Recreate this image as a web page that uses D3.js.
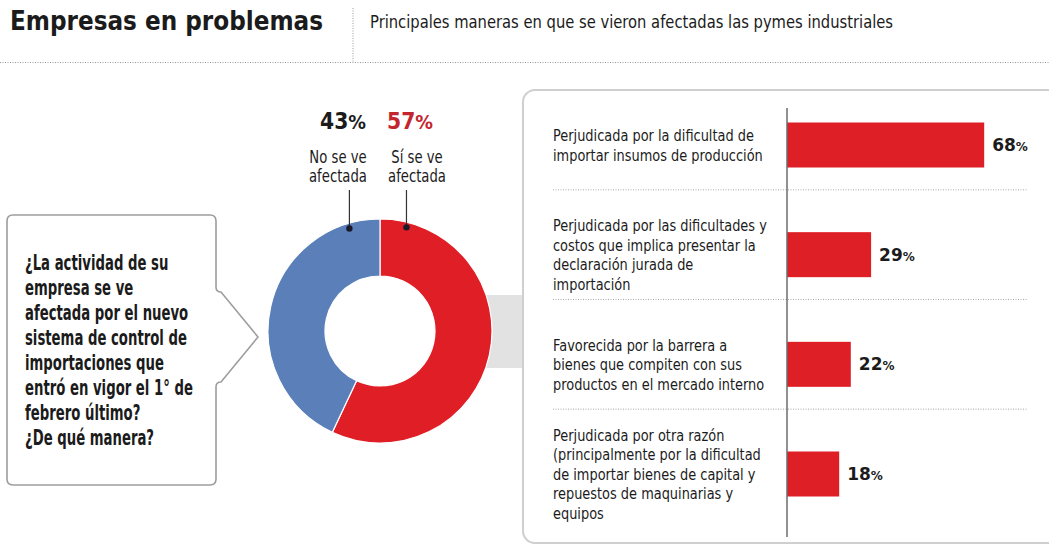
<!DOCTYPE html>
<html>
<head>
<meta charset="utf-8">
<script src="https://cdn.jsdelivr.net/npm/d3@7"></script>
<style>
    body { margin: 0; background: #fff; }
    svg { display: block; font-family: "DejaVu Sans", "Liberation Sans", sans-serif; }
</style>
</head>
<body>
<svg id="chart" width="1049" height="545"></svg>
<script>
// data
const title = "Empresas en problemas";
const subtitle = "Principales maneras en que se vieron afectadas las pymes industriales";
const question = ["¿La actividad de su", "empresa se ve", "afectada por el nuevo", "sistema de control de",
    "importaciones que", "entró en vigor el 1° de", "febrero último?", "¿De qué manera?"];
const pieNames = ["Sí se ve afectada", "No se ve afectada"];
const pieLines = [["Sí se ve", "afectada"], ["No se ve", "afectada"]];
const pieValues = [57, 43];
const pieColors = ["#e01e26", "#5a7fb9"];
const barLabels = [
    ["Perjudicada por la dificultad de", "importar insumos de producción"],
    ["Perjudicada por las dificultades y", "costos que implica presentar la", "declaración jurada de", "importación"],
    ["Favorecida por la barrera a", "bienes que compiten con sus", "productos en el mercado interno"],
    ["Perjudicada por otra razón", "(principalmente por la dificultad", "de importar bienes de capital y", "repuestos de maquinarias y", "equipos"]
];
const barValues = [68, 29, 22, 18];

const svg = d3.select("#chart");
const ink = "#1b1b1b";

function fitText(sel, width) {
    sel.attr("textLength", width).attr("lengthAdjust", "spacingAndGlyphs");
}

// squeeze a group of texts horizontally so its widest line is `width` (font is wider than the original)
function condense(g, x0, width) {
    let widest = 0;
    g.selectAll("text").each(function () {
        widest = Math.max(widest, this.getComputedTextLength());
    });
    const k = Math.min(1, width / widest);
    g.attr("transform", `translate(${x0},0) scale(${k},1) translate(${-x0},0)`);
}

// header
svg.append("text").attr("x", 10).attr("y", 30)
    .attr("font-size", 27).attr("font-weight", "bold").attr("fill", ink)
    .text(title).call(fitText, 313);
svg.append("text").attr("x", 370).attr("y", 28)
    .attr("font-size", 17).attr("fill", ink)
    .text(subtitle).call(fitText, 523);
svg.append("line").attr("x1", 353).attr("x2", 353).attr("y1", 8).attr("y2", 62)
    .attr("stroke", "#9a9a9a").attr("stroke-dasharray", "1,1.5");
svg.append("line").attr("x1", 0).attr("x2", 1049).attr("y1", 62.5).attr("y2", 62.5)
    .attr("stroke", "#9a9a9a").attr("stroke-dasharray", "1,1.5");

// grey connector behind the donut
svg.append("rect").attr("x", 440).attr("y", 295).attr("width", 90).attr("height", 73).attr("fill", "#e2e2e2");

// question box with arrow
const bx0 = 7, bx1 = 216, by0 = 215, by1 = 485, r = 6;
const boxPath = d3.path();
boxPath.moveTo(bx0 + r, by0);
boxPath.lineTo(bx1 - r, by0);
boxPath.quadraticCurveTo(bx1, by0, bx1, by0 + r);
boxPath.lineTo(bx1, 287);
boxPath.quadraticCurveTo(bx1, 292, 221, 292);
boxPath.lineTo(258, 337);
boxPath.lineTo(221, 382);
boxPath.quadraticCurveTo(bx1, 382, bx1, 387);
boxPath.lineTo(bx1, by1 - r);
boxPath.quadraticCurveTo(bx1, by1, bx1 - r, by1);
boxPath.lineTo(bx0 + r, by1);
boxPath.quadraticCurveTo(bx0, by1, bx0, by1 - r);
boxPath.lineTo(bx0, by0 + r);
boxPath.quadraticCurveTo(bx0, by0, bx0 + r, by0);
boxPath.closePath();
svg.append("path").attr("d", boxPath.toString())
    .attr("fill", "#fff").attr("stroke", "#9d9d9d").attr("stroke-width", 1.6);

const qText = svg.append("g");
qText.selectAll("text").data(question).enter().append("text")
    .attr("x", 25).attr("y", (d, i) => 270 + i * 25)
    .attr("font-size", 21).attr("font-weight", "bold").attr("fill", ink)
    .text(d => d);
condense(qText, 25, 168);

// donut
const cx = 380, cy = 331;
const pie = d3.pie().sort(null).value(d => d)(pieValues);
const arc = d3.arc().innerRadius(55).outerRadius(112);
const donut = svg.append("g").attr("transform", `translate(${cx},${cy})`);
donut.selectAll("path").data(pie).enter().append("path")
    .attr("d", arc)
    .attr("fill", (d, i) => pieColors[i])
    .attr("stroke", "#fff").attr("stroke-width", 1.2);

// labels above the donut, red first (right), blue second (left)
const labelX = [417, 338];
const pctX = [410, 343];
const leaderAngle = [0.25, -0.29];
const pctColor = ["#c4262e", ink];
pieValues.forEach(function (v, i) {
    const pg = svg.append("g");
    const pct = pg.append("text").attr("x", pctX[i]).attr("y", 129)
        .attr("text-anchor", "middle").attr("font-weight", "bold")
        .attr("fill", pctColor[i]).attr("font-size", 23);
    pct.append("tspan").text(v);
    pct.append("tspan").attr("font-size", 20).text("%");
    condense(pg, pctX[i], 46);
    const lg = svg.append("g");
    lg.selectAll("text").data(pieLines[i]).enter().append("text")
        .attr("x", labelX[i]).attr("y", (d, j) => 163 + j * 19)
        .attr("text-anchor", "middle").attr("font-size", 17.5).attr("fill", ink)
        .text(d => d);
    condense(lg, labelX[i], 58);
    const dx = cx + 107 * Math.sin(leaderAngle[i]);
    const dy = cy - 107 * Math.cos(leaderAngle[i]);
    svg.append("line").attr("x1", dx).attr("x2", dx).attr("y1", 190).attr("y2", dy)
        .attr("stroke", "#333").attr("stroke-width", 1.2);
    svg.append("circle").attr("cx", dx).attr("cy", dy).attr("r", 3.2).attr("fill", "#1a1a2a");
});

// bar panel
svg.append("rect").attr("x", 523).attr("y", 90).attr("width", 560).attr("height", 453).attr("rx", 12)
    .attr("fill", "#fff").attr("stroke", "#cfcfcf").attr("stroke-width", 2);

const x = d3.scaleLinear().domain([0, 100]).range([787, 1077]);
const y = d3.scalePoint().domain(d3.range(barValues.length)).range([145, 474]);
const barH = 45;

// dotted separators between rows
svg.append("g").selectAll("line").data(d3.range(1, barValues.length)).enter().append("line")
    .attr("x1", 553).attr("x2", 1027)
    .attr("y1", d => (y(d - 1) + y(d)) / 2 - 10).attr("y2", d => (y(d - 1) + y(d)) / 2 - 10)
    .attr("stroke", "#a8a8a8").attr("stroke-dasharray", "1,1.5");

const rows = svg.append("g").selectAll("g").data(barValues).enter().append("g");
rows.append("rect")
    .attr("x", x(0)).attr("y", (d, i) => y(i) - barH / 2)
    .attr("width", d => x(d) - x(0)).attr("height", barH)
    .attr("fill", "#de1f26");

const vals = rows.append("text")
    .attr("x", d => x(d) + 8).attr("y", (d, i) => y(i) + 6)
    .attr("font-weight", "bold").attr("font-size", 17).attr("fill", ink);
vals.append("tspan").text(d => d);
vals.append("tspan").attr("font-size", 12).text("%");

const catText = svg.append("g");
barLabels.forEach(function (lines, i) {
    const top = y(i) - (lines.length - 1) * 19.5 / 2 + 6;
    catText.selectAll(".cat" + i).data(lines).enter().append("text")
        .attr("class", "cat" + i)
        .attr("x", 553).attr("y", (t, j) => top + j * 19.5)
        .attr("font-size", 16.5).attr("fill", ink)
        .text(t => t);
});
condense(catText, 553, 214);

// axis line
svg.append("line").attr("x1", x(0)).attr("x2", x(0)).attr("y1", 108).attr("y2", 537)
    .attr("stroke", "#6b6b6b").attr("stroke-width", 1.5);
</script>
</body>
</html>
